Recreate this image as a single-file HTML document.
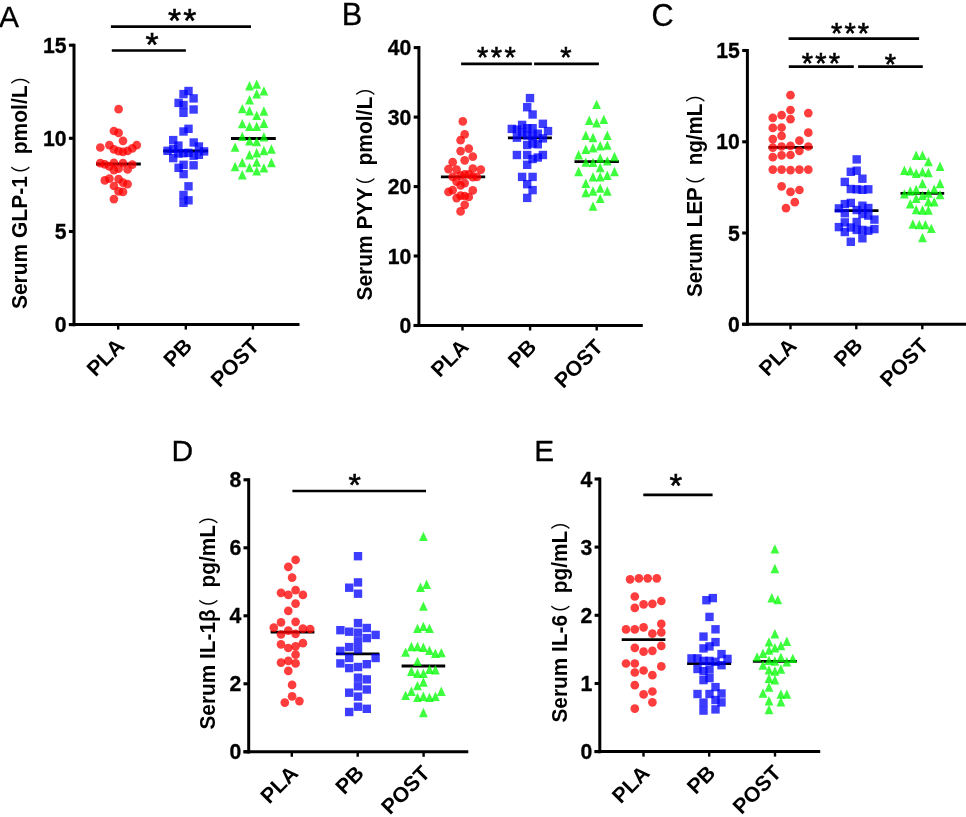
<!DOCTYPE html>
<html><head><meta charset="utf-8"><title>Figure</title>
<style>
html,body{margin:0;padding:0;background:#fff}
svg{display:block}
#fig{will-change:transform;width:966px;height:817px}
.st{stroke:#000;stroke-width:.6px}
.tk{stroke:#000;stroke-width:.3px}
.b{font-family:"Liberation Sans",sans-serif;font-weight:bold;fill:#000}
.l{font-family:"Liberation Sans",sans-serif;fill:#000}
.cj{font-family:"Noto Sans CJK SC","Liberation Sans",sans-serif;font-weight:normal}
</style></head><body>
<div id="fig">
<svg width="966" height="817" viewBox="0 0 966 817">
<rect width="966" height="817" fill="#fff"/>
<g id="panelA">
<text class="l tk" transform="translate(-0.9 26.9) scale(1 1)" font-size="30">A</text>
<line x1="96" x2="140.8" y1="164" y2="164" stroke="#000" stroke-width="2.8"/>
<g fill="#ff0000" fill-opacity="0.76">
<circle cx="118.6" cy="109.2" r="4.35"/><circle cx="113.9" cy="131" r="4.35"/><circle cx="118.6" cy="132.9" r="4.35"/><circle cx="123" cy="140.8" r="4.35"/><circle cx="100.3" cy="147.5" r="4.35"/><circle cx="109.4" cy="145.2" r="4.35"/><circle cx="113.9" cy="149.3" r="4.35"/><circle cx="118.6" cy="151.1" r="4.35"/><circle cx="123" cy="151.8" r="4.35"/><circle cx="127.6" cy="150.8" r="4.35"/><circle cx="132.3" cy="148.4" r="4.35"/><circle cx="136.7" cy="145.2" r="4.35"/><circle cx="100.3" cy="163.2" r="4.35"/><circle cx="104.8" cy="164.3" r="4.35"/><circle cx="109.4" cy="166.5" r="4.35"/><circle cx="113.9" cy="162.8" r="4.35"/><circle cx="113.9" cy="170.1" r="4.35"/><circle cx="118.6" cy="168.7" r="4.35"/><circle cx="123" cy="163.2" r="4.35"/><circle cx="127.6" cy="169.4" r="4.35"/><circle cx="132.3" cy="164.6" r="4.35"/><circle cx="104.8" cy="180.4" r="4.35"/><circle cx="109.4" cy="178.7" r="4.35"/><circle cx="118.6" cy="179.2" r="4.35"/><circle cx="123" cy="182.6" r="4.35"/><circle cx="127.6" cy="184.1" r="4.35"/><circle cx="113.9" cy="186" r="4.35"/><circle cx="118.6" cy="191.4" r="4.35"/><circle cx="123" cy="191.9" r="4.35"/><circle cx="113.9" cy="199.1" r="4.35"/>
</g>
<line x1="163.2" x2="208.1" y1="151" y2="151" stroke="#000" stroke-width="2.8"/>
<g fill="#0000ff" fill-opacity="0.76">
<rect x="184.3" y="86.8" width="8.4" height="8.4"/><rect x="179.3" y="89.9" width="8.4" height="8.4"/><rect x="189.4" y="94.2" width="8.4" height="8.4"/><rect x="174.4" y="98.7" width="8.4" height="8.4"/><rect x="179.3" y="100.8" width="8.4" height="8.4"/><rect x="189.4" y="105.3" width="8.4" height="8.4"/><rect x="179.3" y="108.6" width="8.4" height="8.4"/><rect x="184.3" y="124.6" width="8.4" height="8.4"/><rect x="179.3" y="127.3" width="8.4" height="8.4"/><rect x="184.3" y="182.1" width="8.4" height="8.4"/><rect x="179.3" y="190.8" width="8.4" height="8.4"/><rect x="184.3" y="196.1" width="8.4" height="8.4"/><rect x="179.3" y="198.6" width="8.4" height="8.4"/><rect x="163.3" y="146.6" width="8.4" height="8.4"/><rect x="169" y="135.9" width="8.4" height="8.4"/><rect x="169" y="144.8" width="8.4" height="8.4"/><rect x="169" y="153.9" width="8.4" height="8.4"/><rect x="174.2" y="141.4" width="8.4" height="8.4"/><rect x="174.2" y="149.3" width="8.4" height="8.4"/><rect x="179.2" y="149" width="8.4" height="8.4"/><rect x="184.3" y="148.6" width="8.4" height="8.4"/><rect x="189.5" y="138.3" width="8.4" height="8.4"/><rect x="189.5" y="151.5" width="8.4" height="8.4"/><rect x="194.7" y="142.3" width="8.4" height="8.4"/><rect x="194.7" y="150.6" width="8.4" height="8.4"/><rect x="199.9" y="147.2" width="8.4" height="8.4"/><rect x="179.4" y="160.6" width="8.4" height="8.4"/><rect x="189.4" y="161.1" width="8.4" height="8.4"/><rect x="174.4" y="163.6" width="8.4" height="8.4"/><rect x="179.4" y="169.9" width="8.4" height="8.4"/>
</g>
<line x1="231" x2="275.8" y1="138.5" y2="138.5" stroke="#000" stroke-width="2.8"/>
<g fill="#00ff00" fill-opacity="0.76">
<path d="M249.5 81L253.9 90.4L245.1 90.4Z"/><path d="M256.7 79.4L261.1 88.8L252.3 88.8Z"/><path d="M263.9 86.2L268.3 95.6L259.5 95.6Z"/><path d="M256.7 89.1L261.1 98.5L252.3 98.5Z"/><path d="M249.5 95L253.9 104.4L245.1 104.4Z"/><path d="M242.3 103.9L246.7 113.3L237.9 113.3Z"/><path d="M249.5 106L253.9 115.4L245.1 115.4Z"/><path d="M263.9 106.3L268.3 115.7L259.5 115.7Z"/><path d="M256.7 110.7L261.1 120.1L252.3 120.1Z"/><path d="M242.3 118.9L246.7 128.3L237.9 128.3Z"/><path d="M263.9 118.5L268.3 127.9L259.5 127.9Z"/><path d="M249.5 121.7L253.9 131.1L245.1 131.1Z"/><path d="M256.7 121.7L261.1 131.1L252.3 131.1Z"/><path d="M242.3 131.7L246.7 141.1L237.9 141.1Z"/><path d="M263.9 132L268.3 141.4L259.5 141.4Z"/><path d="M249.5 136.1L253.9 145.5L245.1 145.5Z"/><path d="M256.7 136.8L261.1 146.2L252.3 146.2Z"/><path d="M235.1 142.4L239.5 151.8L230.7 151.8Z"/><path d="M271.4 144.3L275.8 153.7L267 153.7Z"/><path d="M263.9 145.8L268.3 155.2L259.5 155.2Z"/><path d="M256.7 148.1L261.1 157.5L252.3 157.5Z"/><path d="M249.5 150L253.9 159.4L245.1 159.4Z"/><path d="M242.3 157.8L246.7 167.2L237.9 167.2Z"/><path d="M256.7 157.4L261.1 166.8L252.3 166.8Z"/><path d="M271.4 157.8L275.8 167.2L267 167.2Z"/><path d="M235.1 161.8L239.5 171.2L230.7 171.2Z"/><path d="M249.5 162.8L253.9 172.2L245.1 172.2Z"/><path d="M263.9 163.2L268.3 172.6L259.5 172.6Z"/><path d="M256.7 166.2L261.1 175.6L252.3 175.6Z"/><path d="M242.3 170L246.7 179.4L237.9 179.4Z"/>
</g>
<g stroke="#000" fill="none">
<line x1="74" x2="74" y1="43.7" y2="326.2" stroke-width="3"/>
<line x1="68.9" x2="299.5" y1="324.6" y2="324.6" stroke-width="3"/>
<line x1="68.9" x2="74" y1="324.6" y2="324.6" stroke-width="3.1"/>
<line x1="68.9" x2="74" y1="231.5" y2="231.5" stroke-width="3.1"/>
<line x1="68.9" x2="74" y1="138.3" y2="138.3" stroke-width="3.1"/>
<line x1="68.9" x2="74" y1="45.2" y2="45.2" stroke-width="3.1"/>
<line x1="118.2" x2="118.2" y1="324.6" y2="329.6" stroke-width="2.4"/>
<line x1="185.8" x2="185.8" y1="324.6" y2="329.6" stroke-width="2.4"/>
<line x1="252.9" x2="252.9" y1="324.6" y2="329.6" stroke-width="2.4"/>
</g>
<text class="b tk" transform="translate(66.5 332.2) scale(1 1.045)" font-size="21.2" text-anchor="end">0</text>
<text class="b tk" transform="translate(66.5 239.1) scale(1 1.045)" font-size="21.2" text-anchor="end">5</text>
<text class="b tk" transform="translate(66.5 145.9) scale(1 1.045)" font-size="21.2" text-anchor="end">10</text>
<text class="b tk" transform="translate(66.5 52.8) scale(1 1.045)" font-size="21.2" text-anchor="end">15</text>
<text class="b" transform="translate(125.7 347.3) rotate(-45)" font-size="21.3" text-anchor="end">PLA</text>
<text class="b" transform="translate(193.3 347.3) rotate(-45)" font-size="21.3" text-anchor="end">PB</text>
<text class="b" transform="translate(260.4 347.3) rotate(-45)" font-size="21.3" text-anchor="end">POST</text>
<text class="b" transform="translate(27.3 309.1) rotate(-90) scale(1 1.06)" font-size="21">Serum GLP-1<tspan class="cj" font-size="18.5" dx="-8.2" dy="1">（</tspan> <tspan dx="5.8" dy="-1">pmol/L</tspan><tspan class="cj" font-size="18.5" dx="1" dy="1">）</tspan></text>
<line x1="110.9" x2="251" y1="26.7" y2="26.7" stroke="#000" stroke-width="2.7"/>
<text class="l st" x="168.1" y="32.4" font-size="33.5" letter-spacing="2.2">**</text>
<line x1="111.8" x2="185.9" y1="50.5" y2="50.5" stroke="#000" stroke-width="2.7"/>
<text class="l st" x="145.5" y="55.9" font-size="33.5">*</text>
</g>
<g id="panelB">
<text class="l tk" transform="translate(341.8 25.1) scale(1 1)" font-size="30.7">B</text>
<line x1="440.9" x2="485.2" y1="176.8" y2="176.8" stroke="#000" stroke-width="2.8"/>
<g fill="#ff0000" fill-opacity="0.76">
<circle cx="462.8" cy="121.4" r="4.35"/><circle cx="464.7" cy="134.4" r="4.35"/><circle cx="460.6" cy="140.2" r="4.35"/><circle cx="468.8" cy="148.6" r="4.35"/><circle cx="460.6" cy="151.1" r="4.35"/><circle cx="472.8" cy="156.7" r="4.35"/><circle cx="464.7" cy="160.3" r="4.35"/><circle cx="452.7" cy="162.2" r="4.35"/><circle cx="448.5" cy="169.1" r="4.35"/><circle cx="456.6" cy="169.6" r="4.35"/><circle cx="472.8" cy="168.7" r="4.35"/><circle cx="480.8" cy="169.6" r="4.35"/><circle cx="464.7" cy="174.3" r="4.35"/><circle cx="468.8" cy="174.3" r="4.35"/><circle cx="452.7" cy="176.9" r="4.35"/><circle cx="460.6" cy="175.7" r="4.35"/><circle cx="472.8" cy="177.2" r="4.35"/><circle cx="476.9" cy="176.9" r="4.35"/><circle cx="456.6" cy="181.6" r="4.35"/><circle cx="464.7" cy="183.1" r="4.35"/><circle cx="460.6" cy="185.3" r="4.35"/><circle cx="452.7" cy="190.1" r="4.35"/><circle cx="448.5" cy="191.9" r="4.35"/><circle cx="472.8" cy="190.4" r="4.35"/><circle cx="460.6" cy="195.6" r="4.35"/><circle cx="464.7" cy="196" r="4.35"/><circle cx="456.6" cy="198.1" r="4.35"/><circle cx="468.8" cy="197" r="4.35"/><circle cx="464.7" cy="204.8" r="4.35"/><circle cx="460.6" cy="211.4" r="4.35"/>
</g>
<line x1="507.9" x2="551.9" y1="137.8" y2="137.8" stroke="#000" stroke-width="2.8"/>
<g fill="#0000ff" fill-opacity="0.76">
<rect x="525.8" y="93.9" width="8.4" height="8.4"/><rect x="523" y="103" width="8.4" height="8.4"/><rect x="528.4" y="110.3" width="8.4" height="8.4"/><rect x="538.7" y="119.6" width="8.4" height="8.4"/><rect x="517.9" y="120.7" width="8.4" height="8.4"/><rect x="507.6" y="124.7" width="8.4" height="8.4"/><rect x="528.4" y="124" width="8.4" height="8.4"/><rect x="523" y="124" width="8.4" height="8.4"/><rect x="512.7" y="125.4" width="8.4" height="8.4"/><rect x="543.8" y="126.9" width="8.4" height="8.4"/><rect x="517.9" y="128.4" width="8.4" height="8.4"/><rect x="533.6" y="129.5" width="8.4" height="8.4"/><rect x="523" y="131.3" width="8.4" height="8.4"/><rect x="528.4" y="132" width="8.4" height="8.4"/><rect x="512.7" y="133.5" width="8.4" height="8.4"/><rect x="538.7" y="134.2" width="8.4" height="8.4"/><rect x="533.6" y="140.1" width="8.4" height="8.4"/><rect x="523" y="140.8" width="8.4" height="8.4"/><rect x="528.4" y="139.4" width="8.4" height="8.4"/><rect x="512.7" y="150.8" width="8.4" height="8.4"/><rect x="523" y="150.8" width="8.4" height="8.4"/><rect x="538.7" y="150.8" width="8.4" height="8.4"/><rect x="533.6" y="153.3" width="8.4" height="8.4"/><rect x="528.4" y="154.8" width="8.4" height="8.4"/><rect x="523" y="160.6" width="8.4" height="8.4"/><rect x="517.9" y="172.7" width="8.4" height="8.4"/><rect x="528.4" y="172.7" width="8.4" height="8.4"/><rect x="523" y="180" width="8.4" height="8.4"/><rect x="528.4" y="185.9" width="8.4" height="8.4"/><rect x="523" y="193.7" width="8.4" height="8.4"/>
</g>
<line x1="574.5" x2="618.9" y1="161.6" y2="161.6" stroke="#000" stroke-width="2.8"/>
<g fill="#00ff00" fill-opacity="0.76">
<path d="M596.6 99.7L601 109.1L592.2 109.1Z"/><path d="M589.3 115.6L593.7 125L584.9 125Z"/><path d="M603.8 114.7L608.2 124.1L599.4 124.1Z"/><path d="M596.6 118.1L601 127.5L592.2 127.5Z"/><path d="M585.8 130.6L590.2 140L581.4 140Z"/><path d="M607.3 130.6L611.7 140L602.9 140Z"/><path d="M593 132.8L597.4 142.2L588.6 142.2Z"/><path d="M607.3 140.4L611.7 149.8L602.9 149.8Z"/><path d="M600.2 141.1L604.6 150.5L595.8 150.5Z"/><path d="M593 143L597.4 152.4L588.6 152.4Z"/><path d="M585.8 144.5L590.2 153.9L581.4 153.9Z"/><path d="M578.6 150.1L583 159.5L574.2 159.5Z"/><path d="M614.5 151.8L618.9 161.2L610.1 161.2Z"/><path d="M600.2 153.3L604.6 162.7L595.8 162.7Z"/><path d="M607.3 156.2L611.7 165.6L602.9 165.6Z"/><path d="M585.8 157.4L590.2 166.8L581.4 166.8Z"/><path d="M593 157.7L597.4 167.1L588.6 167.1Z"/><path d="M600.2 162.8L604.6 172.2L595.8 172.2Z"/><path d="M578.6 166.8L583 176.2L574.2 176.2Z"/><path d="M614.5 166.8L618.9 176.2L610.1 176.2Z"/><path d="M607.3 170.6L611.7 180L602.9 180Z"/><path d="M593 172.1L597.4 181.5L588.6 181.5Z"/><path d="M600.2 172.1L604.6 181.5L595.8 181.5Z"/><path d="M585.8 178.5L590.2 187.9L581.4 187.9Z"/><path d="M600.2 183.4L604.6 192.8L595.8 192.8Z"/><path d="M593 186.3L597.4 195.7L588.6 195.7Z"/><path d="M607.3 186.3L611.7 195.7L602.9 195.7Z"/><path d="M585.8 187.8L590.2 197.2L581.4 197.2Z"/><path d="M600.2 193.7L604.6 203.1L595.8 203.1Z"/><path d="M593 201.4L597.4 210.8L588.6 210.8Z"/>
</g>
<g stroke="#000" fill="none">
<line x1="418.9" x2="418.9" y1="46.1" y2="327.1" stroke-width="3"/>
<line x1="413.7" x2="642.8" y1="325.5" y2="325.5" stroke-width="3"/>
<line x1="413.7" x2="418.9" y1="325.5" y2="325.5" stroke-width="3.1"/>
<line x1="413.7" x2="418.9" y1="256" y2="256" stroke-width="3.1"/>
<line x1="413.7" x2="418.9" y1="186.6" y2="186.6" stroke-width="3.1"/>
<line x1="413.7" x2="418.9" y1="117.1" y2="117.1" stroke-width="3.1"/>
<line x1="413.7" x2="418.9" y1="47.6" y2="47.6" stroke-width="3.1"/>
<line x1="462.5" x2="462.5" y1="325.5" y2="330.5" stroke-width="2.4"/>
<line x1="530.1" x2="530.1" y1="325.5" y2="330.5" stroke-width="2.4"/>
<line x1="596.7" x2="596.7" y1="325.5" y2="330.5" stroke-width="2.4"/>
</g>
<text class="b tk" transform="translate(411.4 333.1) scale(1 1.045)" font-size="21.2" text-anchor="end">0</text>
<text class="b tk" transform="translate(411.4 263.6) scale(1 1.045)" font-size="21.2" text-anchor="end">10</text>
<text class="b tk" transform="translate(411.4 194.2) scale(1 1.045)" font-size="21.2" text-anchor="end">20</text>
<text class="b tk" transform="translate(411.4 124.7) scale(1 1.045)" font-size="21.2" text-anchor="end">30</text>
<text class="b tk" transform="translate(411.4 55.2) scale(1 1.045)" font-size="21.2" text-anchor="end">40</text>
<text class="b" transform="translate(470 348.2) rotate(-45)" font-size="21.3" text-anchor="end">PLA</text>
<text class="b" transform="translate(537.6 348.2) rotate(-45)" font-size="21.3" text-anchor="end">PB</text>
<text class="b" transform="translate(604.2 348.2) rotate(-45)" font-size="21.3" text-anchor="end">POST</text>
<text class="b" transform="translate(371.9 300.6) rotate(-90) scale(1 1.06)" font-size="21">Serum PYY<tspan class="cj" font-size="18.5" dx="-8.2" dy="1">（</tspan> <tspan dx="5.8" dy="-1">pmol/L</tspan><tspan class="cj" font-size="18.5" dx="1" dy="1">）</tspan></text>
<line x1="461.1" x2="531.9" y1="63.9" y2="63.9" stroke="#000" stroke-width="2.7"/>
<text class="l st" x="476.9" y="66.5" font-size="29" letter-spacing="2.5">***</text>
<line x1="534.1" x2="598.9" y1="63.9" y2="63.9" stroke="#000" stroke-width="2.7"/>
<text class="l st" x="560.2" y="66.5" font-size="29">*</text>
</g>
<g id="panelC">
<text class="l tk" transform="translate(651.6 25.7) scale(1 1)" font-size="30.6">C</text>
<line x1="768.5" x2="812.6" y1="147.3" y2="147.3" stroke="#000" stroke-width="2.8"/>
<g fill="#ff0000" fill-opacity="0.76">
<circle cx="790.5" cy="95.2" r="4.35"/><circle cx="790.5" cy="110" r="4.35"/><circle cx="808.3" cy="113.1" r="4.35"/><circle cx="781.6" cy="115.2" r="4.35"/><circle cx="772.8" cy="117.9" r="4.35"/><circle cx="790.5" cy="119.2" r="4.35"/><circle cx="772.8" cy="127.9" r="4.35"/><circle cx="781.6" cy="127.5" r="4.35"/><circle cx="808.3" cy="132.7" r="4.35"/><circle cx="781.6" cy="135.9" r="4.35"/><circle cx="772.8" cy="139.1" r="4.35"/><circle cx="799.4" cy="140.7" r="4.35"/><circle cx="772.8" cy="147.7" r="4.35"/><circle cx="781.6" cy="146.5" r="4.35"/><circle cx="790.5" cy="145.8" r="4.35"/><circle cx="808.3" cy="146.5" r="4.35"/><circle cx="799.4" cy="150.8" r="4.35"/><circle cx="772.8" cy="157.2" r="4.35"/><circle cx="781.6" cy="155.3" r="4.35"/><circle cx="790.5" cy="155" r="4.35"/><circle cx="772.8" cy="169.6" r="4.35"/><circle cx="781.6" cy="169.6" r="4.35"/><circle cx="790.5" cy="170.1" r="4.35"/><circle cx="799.4" cy="169.6" r="4.35"/><circle cx="808.3" cy="169.6" r="4.35"/><circle cx="781.6" cy="186.3" r="4.35"/><circle cx="790.5" cy="191.9" r="4.35"/><circle cx="799.4" cy="190" r="4.35"/><circle cx="794.8" cy="202.2" r="4.35"/><circle cx="786" cy="208.1" r="4.35"/>
</g>
<line x1="834.7" x2="878.5" y1="210.7" y2="210.7" stroke="#000" stroke-width="2.8"/>
<g fill="#0000ff" fill-opacity="0.76">
<rect x="852.5" y="155.2" width="8.4" height="8.4"/><rect x="852.5" y="166.5" width="8.4" height="8.4"/><rect x="846.6" y="167.6" width="8.4" height="8.4"/><rect x="858.2" y="174.5" width="8.4" height="8.4"/><rect x="840.6" y="177.7" width="8.4" height="8.4"/><rect x="846.6" y="184.8" width="8.4" height="8.4"/><rect x="852.5" y="185.1" width="8.4" height="8.4"/><rect x="858.2" y="185.6" width="8.4" height="8.4"/><rect x="864.1" y="185.1" width="8.4" height="8.4"/><rect x="846.6" y="198.7" width="8.4" height="8.4"/><rect x="840.6" y="199.9" width="8.4" height="8.4"/><rect x="858.2" y="201.5" width="8.4" height="8.4"/><rect x="834.7" y="204.2" width="8.4" height="8.4"/><rect x="864.1" y="203.8" width="8.4" height="8.4"/><rect x="852.5" y="205.8" width="8.4" height="8.4"/><rect x="840.6" y="209" width="8.4" height="8.4"/><rect x="858.2" y="209.8" width="8.4" height="8.4"/><rect x="864.1" y="211.4" width="8.4" height="8.4"/><rect x="870.2" y="215.4" width="8.4" height="8.4"/><rect x="840.6" y="218.2" width="8.4" height="8.4"/><rect x="852.5" y="217.8" width="8.4" height="8.4"/><rect x="834.7" y="222.9" width="8.4" height="8.4"/><rect x="846.6" y="223.3" width="8.4" height="8.4"/><rect x="870.2" y="224.9" width="8.4" height="8.4"/><rect x="852.5" y="225.7" width="8.4" height="8.4"/><rect x="858.2" y="225.7" width="8.4" height="8.4"/><rect x="864.1" y="226.5" width="8.4" height="8.4"/><rect x="840.6" y="227.8" width="8.4" height="8.4"/><rect x="858.2" y="234.1" width="8.4" height="8.4"/><rect x="846.6" y="237.6" width="8.4" height="8.4"/>
</g>
<line x1="900.5" x2="944.2" y1="193.4" y2="193.4" stroke="#000" stroke-width="2.8"/>
<g fill="#00ff00" fill-opacity="0.76">
<path d="M916.2 150.6L920.6 160L911.8 160Z"/><path d="M922.5 150.6L926.9 160L918.1 160Z"/><path d="M928.4 156.8L932.8 166.2L924 166.2Z"/><path d="M940.1 161.6L944.5 171L935.7 171Z"/><path d="M904.4 165.6L908.8 175L900 175Z"/><path d="M910.3 166L914.7 175.4L905.9 175.4Z"/><path d="M922.5 167L926.9 176.4L918.1 176.4Z"/><path d="M928.4 167.8L932.8 177.2L924 177.2Z"/><path d="M916.2 168.5L920.6 177.9L911.8 177.9Z"/><path d="M922.5 178.8L926.9 188.2L918.1 188.2Z"/><path d="M940.1 178.8L944.5 188.2L935.7 188.2Z"/><path d="M934.2 184.4L938.6 193.8L929.8 193.8Z"/><path d="M916.2 184.8L920.6 194.2L911.8 194.2Z"/><path d="M910.3 186.3L914.7 195.7L905.9 195.7Z"/><path d="M928.4 188.3L932.8 197.7L924 197.7Z"/><path d="M904.4 189.2L908.8 198.6L900 198.6Z"/><path d="M940.1 189.9L944.5 199.3L935.7 199.3Z"/><path d="M922.5 190.7L926.9 200.1L918.1 200.1Z"/><path d="M916.2 193.5L920.6 202.9L911.8 202.9Z"/><path d="M928.4 196.8L932.8 206.2L924 206.2Z"/><path d="M934.2 197.1L938.6 206.5L929.8 206.5Z"/><path d="M910.3 199L914.7 208.4L905.9 208.4Z"/><path d="M916.2 204.9L920.6 214.3L911.8 214.3Z"/><path d="M922.5 205.3L926.9 214.7L918.1 214.7Z"/><path d="M928.4 205.3L932.8 214.7L924 214.7Z"/><path d="M912.9 219.3L917.3 228.7L908.5 228.7Z"/><path d="M919.3 219.9L923.7 229.3L914.9 229.3Z"/><path d="M925.4 219.9L929.8 229.3L921 229.3Z"/><path d="M931.3 223.7L935.7 233.1L926.9 233.1Z"/><path d="M922.5 232.8L926.9 242.2L918.1 242.2Z"/>
</g>
<g stroke="#000" fill="none">
<line x1="747.4" x2="747.4" y1="49" y2="325.9" stroke-width="3"/>
<line x1="742.2" x2="968" y1="324.3" y2="324.3" stroke-width="3"/>
<line x1="742.2" x2="747.4" y1="324.3" y2="324.3" stroke-width="3.1"/>
<line x1="742.2" x2="747.4" y1="233" y2="233" stroke-width="3.1"/>
<line x1="742.2" x2="747.4" y1="141.8" y2="141.8" stroke-width="3.1"/>
<line x1="742.2" x2="747.4" y1="50.5" y2="50.5" stroke-width="3.1"/>
<line x1="790.5" x2="790.5" y1="324.3" y2="329.3" stroke-width="2.4"/>
<line x1="856.3" x2="856.3" y1="324.3" y2="329.3" stroke-width="2.4"/>
<line x1="922.3" x2="922.3" y1="324.3" y2="329.3" stroke-width="2.4"/>
</g>
<text class="b tk" transform="translate(739.9 331.9) scale(1 1.045)" font-size="21.2" text-anchor="end">0</text>
<text class="b tk" transform="translate(739.9 240.6) scale(1 1.045)" font-size="21.2" text-anchor="end">5</text>
<text class="b tk" transform="translate(739.9 149.4) scale(1 1.045)" font-size="21.2" text-anchor="end">10</text>
<text class="b tk" transform="translate(739.9 58.1) scale(1 1.045)" font-size="21.2" text-anchor="end">15</text>
<text class="b" transform="translate(798 347) rotate(-45)" font-size="21.3" text-anchor="end">PLA</text>
<text class="b" transform="translate(863.8 347) rotate(-45)" font-size="21.3" text-anchor="end">PB</text>
<text class="b" transform="translate(929.8 347) rotate(-45)" font-size="21.3" text-anchor="end">POST</text>
<text class="b" transform="translate(702 297) rotate(-90) scale(1 1.06)" font-size="20.6">Serum LEP<tspan class="cj" font-size="18.5" dx="-8.2" dy="1">（</tspan> <tspan dx="5.8" dy="-1">ng/mL</tspan><tspan class="cj" font-size="18.5" dx="1" dy="1">）</tspan></text>
<line x1="788.6" x2="919.1" y1="38.7" y2="38.7" stroke="#000" stroke-width="2.7"/>
<text class="l st" x="830.9" y="43.4" font-size="29" letter-spacing="2.2">***</text>
<line x1="788.8" x2="853.8" y1="66.7" y2="66.7" stroke="#000" stroke-width="2.7"/>
<text class="l st" x="801.8" y="72.7" font-size="29" letter-spacing="2.2">***</text>
<line x1="858.1" x2="922.8" y1="66.7" y2="66.7" stroke="#000" stroke-width="2.7"/>
<text class="l st" x="884.7" y="73.5" font-size="29">*</text>
</g>
<g id="panelD">
<text class="l tk" transform="translate(171.5 460.8) scale(1 1)" font-size="30">D</text>
<line x1="270.6" x2="314.4" y1="632.2" y2="632.2" stroke="#000" stroke-width="2.8"/>
<g fill="#ff0000" fill-opacity="0.76">
<circle cx="295.6" cy="559.9" r="4.35"/><circle cx="288.3" cy="566.8" r="4.35"/><circle cx="292.1" cy="577.6" r="4.35"/><circle cx="295.6" cy="590.1" r="4.35"/><circle cx="281" cy="592.8" r="4.35"/><circle cx="288.3" cy="594.9" r="4.35"/><circle cx="302.9" cy="594.9" r="4.35"/><circle cx="295.6" cy="603.6" r="4.35"/><circle cx="288.3" cy="610.9" r="4.35"/><circle cx="295.6" cy="621.8" r="4.35"/><circle cx="281" cy="622.4" r="4.35"/><circle cx="273.8" cy="627.6" r="4.35"/><circle cx="302.9" cy="628.6" r="4.35"/><circle cx="310.2" cy="629" r="4.35"/><circle cx="288.3" cy="630.7" r="4.35"/><circle cx="295.6" cy="633.8" r="4.35"/><circle cx="281" cy="634.5" r="4.35"/><circle cx="302.9" cy="643.2" r="4.35"/><circle cx="281" cy="644.3" r="4.35"/><circle cx="295.6" cy="646.3" r="4.35"/><circle cx="288.3" cy="648" r="4.35"/><circle cx="295.6" cy="654.7" r="4.35"/><circle cx="288.3" cy="660.9" r="4.35"/><circle cx="281" cy="662.6" r="4.35"/><circle cx="295.6" cy="663.4" r="4.35"/><circle cx="288.3" cy="670.9" r="4.35"/><circle cx="292.1" cy="684.9" r="4.35"/><circle cx="292.1" cy="696.3" r="4.35"/><circle cx="299.4" cy="701.1" r="4.35"/><circle cx="284.8" cy="702.6" r="4.35"/>
</g>
<line x1="335.9" x2="379.4" y1="653.9" y2="653.9" stroke="#000" stroke-width="2.8"/>
<g fill="#0000ff" fill-opacity="0.76">
<rect x="353.8" y="552" width="8.4" height="8.4"/><rect x="353.8" y="578.2" width="8.4" height="8.4"/><rect x="345" y="583.5" width="8.4" height="8.4"/><rect x="353.8" y="589.5" width="8.4" height="8.4"/><rect x="353.8" y="618.9" width="8.4" height="8.4"/><rect x="362.6" y="623.8" width="8.4" height="8.4"/><rect x="336.2" y="626" width="8.4" height="8.4"/><rect x="345" y="627.5" width="8.4" height="8.4"/><rect x="353.8" y="628.5" width="8.4" height="8.4"/><rect x="371.4" y="630.7" width="8.4" height="8.4"/><rect x="362.6" y="633.9" width="8.4" height="8.4"/><rect x="353.8" y="637.1" width="8.4" height="8.4"/><rect x="345" y="642.9" width="8.4" height="8.4"/><rect x="353.8" y="645.2" width="8.4" height="8.4"/><rect x="336.2" y="646.7" width="8.4" height="8.4"/><rect x="345" y="653.8" width="8.4" height="8.4"/><rect x="371.4" y="653.8" width="8.4" height="8.4"/><rect x="336.2" y="659.2" width="8.4" height="8.4"/><rect x="362.6" y="660" width="8.4" height="8.4"/><rect x="353.8" y="662.8" width="8.4" height="8.4"/><rect x="345" y="663.9" width="8.4" height="8.4"/><rect x="353.8" y="673.5" width="8.4" height="8.4"/><rect x="362.6" y="675.2" width="8.4" height="8.4"/><rect x="353.8" y="682.1" width="8.4" height="8.4"/><rect x="362.6" y="685.3" width="8.4" height="8.4"/><rect x="345" y="688.5" width="8.4" height="8.4"/><rect x="353.8" y="692.4" width="8.4" height="8.4"/><rect x="353.8" y="702.5" width="8.4" height="8.4"/><rect x="362.6" y="704.6" width="8.4" height="8.4"/><rect x="345" y="707.8" width="8.4" height="8.4"/>
</g>
<line x1="401.6" x2="445.2" y1="666" y2="666" stroke="#000" stroke-width="2.8"/>
<g fill="#00ff00" fill-opacity="0.76">
<path d="M423.4 531.7L427.8 541.1L419 541.1Z"/><path d="M426.6 579.6L431 589L422.2 589Z"/><path d="M420.5 582.6L424.9 592L416.1 592Z"/><path d="M423.4 601.4L427.8 610.8L419 610.8Z"/><path d="M423.4 621.7L427.8 631.1L419 631.1Z"/><path d="M417.5 623.7L421.9 633.1L413.1 633.1Z"/><path d="M429.5 623.7L433.9 633.1L425.1 633.1Z"/><path d="M411.4 641.8L415.8 651.2L407 651.2Z"/><path d="M417.5 641.8L421.9 651.2L413.1 651.2Z"/><path d="M423.4 642.5L427.8 651.9L419 651.9Z"/><path d="M429.5 645.7L433.9 655.1L425.1 655.1Z"/><path d="M405.6 647.4L410 656.8L401.2 656.8Z"/><path d="M441.3 647.9L445.7 657.3L436.9 657.3Z"/><path d="M435.4 648.6L439.8 658L431 658Z"/><path d="M417.5 656.7L421.9 666.1L413.1 666.1Z"/><path d="M429.5 664.5L433.9 673.9L425.1 673.9Z"/><path d="M435.4 665L439.8 674.4L431 674.4Z"/><path d="M411.4 666.5L415.8 675.9L407 675.9Z"/><path d="M417.5 668.7L421.9 678.1L413.1 678.1Z"/><path d="M423.4 668.7L427.8 678.1L419 678.1Z"/><path d="M423.4 677.3L427.8 686.7L419 686.7Z"/><path d="M417.5 680.9L421.9 690.3L413.1 690.3Z"/><path d="M411.4 686.6L415.8 696L407 696Z"/><path d="M441.3 686.6L445.7 696L436.9 696Z"/><path d="M405.6 690.7L410 700.1L401.2 700.1Z"/><path d="M423.4 691.5L427.8 700.9L419 700.9Z"/><path d="M435.4 691.5L439.8 700.9L431 700.9Z"/><path d="M417.5 692.7L421.9 702.1L413.1 702.1Z"/><path d="M429.5 692.7L433.9 702.1L425.1 702.1Z"/><path d="M423.4 707.8L427.8 717.2L419 717.2Z"/>
</g>
<g stroke="#000" fill="none">
<line x1="248.7" x2="248.7" y1="478.2" y2="753.4" stroke-width="3"/>
<line x1="243.5" x2="468.3" y1="751.8" y2="751.8" stroke-width="3"/>
<line x1="243.5" x2="248.7" y1="751.8" y2="751.8" stroke-width="3.1"/>
<line x1="243.5" x2="248.7" y1="683.8" y2="683.8" stroke-width="3.1"/>
<line x1="243.5" x2="248.7" y1="615.8" y2="615.8" stroke-width="3.1"/>
<line x1="243.5" x2="248.7" y1="547.8" y2="547.8" stroke-width="3.1"/>
<line x1="243.5" x2="248.7" y1="479.8" y2="479.8" stroke-width="3.1"/>
<line x1="291.8" x2="291.8" y1="751.8" y2="756.8" stroke-width="2.4"/>
<line x1="357.7" x2="357.7" y1="751.8" y2="756.8" stroke-width="2.4"/>
<line x1="423.6" x2="423.6" y1="751.8" y2="756.8" stroke-width="2.4"/>
</g>
<text class="b tk" transform="translate(241.2 759.4) scale(1 1.045)" font-size="21.2" text-anchor="end">0</text>
<text class="b tk" transform="translate(241.2 691.4) scale(1 1.045)" font-size="21.2" text-anchor="end">2</text>
<text class="b tk" transform="translate(241.2 623.4) scale(1 1.045)" font-size="21.2" text-anchor="end">4</text>
<text class="b tk" transform="translate(241.2 555.4) scale(1 1.045)" font-size="21.2" text-anchor="end">6</text>
<text class="b tk" transform="translate(241.2 487.4) scale(1 1.045)" font-size="21.2" text-anchor="end">8</text>
<text class="b" transform="translate(299.3 774.5) rotate(-45)" font-size="21.3" text-anchor="end">PLA</text>
<text class="b" transform="translate(365.2 774.5) rotate(-45)" font-size="21.3" text-anchor="end">PB</text>
<text class="b" transform="translate(431.1 774.5) rotate(-45)" font-size="21.3" text-anchor="end">POST</text>
<text class="b" transform="translate(215.2 729.5) rotate(-90) scale(1 1.06)" font-size="20.8">Serum IL-1β<tspan class="cj" font-size="18.5" dx="-8.2" dy="1">（</tspan> <tspan dx="5.8" dy="-1">pg/mL</tspan><tspan class="cj" font-size="18.5" dx="1" dy="1">）</tspan></text>
<line x1="292.4" x2="426" y1="491" y2="491" stroke="#000" stroke-width="2.7"/>
<text class="l st" x="348.6" y="495.7" font-size="31.7">*</text>
</g>
<g id="panelE">
<text class="l tk" transform="translate(534.3 460.8) scale(1 1)" font-size="29.8">E</text>
<line x1="621.7" x2="665.4" y1="639.6" y2="639.6" stroke="#000" stroke-width="2.8"/>
<g fill="#ff0000" fill-opacity="0.76">
<circle cx="630.1" cy="579.3" r="4.35"/><circle cx="638.9" cy="578.3" r="4.35"/><circle cx="647.7" cy="578.3" r="4.35"/><circle cx="656.8" cy="578.3" r="4.35"/><circle cx="634.8" cy="596.5" r="4.35"/><circle cx="661.3" cy="601" r="4.35"/><circle cx="652.4" cy="603.8" r="4.35"/><circle cx="643.6" cy="604.4" r="4.35"/><circle cx="634.8" cy="607.9" r="4.35"/><circle cx="661.3" cy="623.9" r="4.35"/><circle cx="643.6" cy="627.3" r="4.35"/><circle cx="626" cy="629.4" r="4.35"/><circle cx="634.8" cy="629.4" r="4.35"/><circle cx="661.3" cy="632.4" r="4.35"/><circle cx="652.4" cy="633.7" r="4.35"/><circle cx="661.3" cy="645.9" r="4.35"/><circle cx="634.8" cy="647.8" r="4.35"/><circle cx="652.4" cy="650.8" r="4.35"/><circle cx="643.6" cy="651.7" r="4.35"/><circle cx="626" cy="663.5" r="4.35"/><circle cx="634.8" cy="663.5" r="4.35"/><circle cx="661.3" cy="666.4" r="4.35"/><circle cx="643.6" cy="670.5" r="4.35"/><circle cx="634.8" cy="672.5" r="4.35"/><circle cx="652.4" cy="675.2" r="4.35"/><circle cx="634.8" cy="685.2" r="4.35"/><circle cx="652.4" cy="691.5" r="4.35"/><circle cx="643.6" cy="694.4" r="4.35"/><circle cx="652.4" cy="702.3" r="4.35"/><circle cx="634.8" cy="708.7" r="4.35"/>
</g>
<line x1="687.1" x2="731.1" y1="663.6" y2="663.6" stroke="#000" stroke-width="2.8"/>
<g fill="#0000ff" fill-opacity="0.76">
<rect x="708.6" y="593.9" width="8.4" height="8.4"/><rect x="702.2" y="596" width="8.4" height="8.4"/><rect x="705.3" y="612.7" width="8.4" height="8.4"/><rect x="711.3" y="625.1" width="8.4" height="8.4"/><rect x="699.3" y="632.4" width="8.4" height="8.4"/><rect x="711.3" y="637.9" width="8.4" height="8.4"/><rect x="705.3" y="642.2" width="8.4" height="8.4"/><rect x="699.3" y="644.2" width="8.4" height="8.4"/><rect x="717.3" y="649.9" width="8.4" height="8.4"/><rect x="687.3" y="654.2" width="8.4" height="8.4"/><rect x="693.3" y="654.2" width="8.4" height="8.4"/><rect x="723.3" y="654.7" width="8.4" height="8.4"/><rect x="699.3" y="656.7" width="8.4" height="8.4"/><rect x="705.3" y="656.7" width="8.4" height="8.4"/><rect x="711.3" y="657.6" width="8.4" height="8.4"/><rect x="717.3" y="661" width="8.4" height="8.4"/><rect x="693.3" y="664.8" width="8.4" height="8.4"/><rect x="705.3" y="665.3" width="8.4" height="8.4"/><rect x="699.3" y="667" width="8.4" height="8.4"/><rect x="705.3" y="673.9" width="8.4" height="8.4"/><rect x="699.3" y="675.9" width="8.4" height="8.4"/><rect x="711.3" y="682.9" width="8.4" height="8.4"/><rect x="693.3" y="689.8" width="8.4" height="8.4"/><rect x="705.3" y="689.8" width="8.4" height="8.4"/><rect x="717.3" y="689.3" width="8.4" height="8.4"/><rect x="711.3" y="695.8" width="8.4" height="8.4"/><rect x="717.3" y="698.2" width="8.4" height="8.4"/><rect x="699.3" y="698.4" width="8.4" height="8.4"/><rect x="711.3" y="705.2" width="8.4" height="8.4"/><rect x="699.3" y="706.4" width="8.4" height="8.4"/>
</g>
<line x1="752.9" x2="796.9" y1="661.4" y2="661.4" stroke="#000" stroke-width="2.8"/>
<g fill="#00ff00" fill-opacity="0.76">
<path d="M774.9 544.2L779.3 553.6L770.5 553.6Z"/><path d="M774.9 563.8L779.3 573.2L770.5 573.2Z"/><path d="M771.8 593.1L776.2 602.5L767.4 602.5Z"/><path d="M777.8 594.9L782.2 604.3L773.4 604.3Z"/><path d="M774.9 629L779.3 638.4L770.5 638.4Z"/><path d="M786.8 636.5L791.2 645.9L782.4 645.9Z"/><path d="M769 637.2L773.4 646.6L764.6 646.6Z"/><path d="M780.9 640.9L785.3 650.3L776.5 650.3Z"/><path d="M774.9 643.1L779.3 652.5L770.5 652.5Z"/><path d="M769 645.3L773.4 654.7L764.6 654.7Z"/><path d="M763 648.6L767.4 658L758.6 658Z"/><path d="M757.1 652.2L761.5 661.6L752.7 661.6Z"/><path d="M780.9 652.6L785.3 662L776.5 662Z"/><path d="M792.8 653.7L797.2 663.1L788.4 663.1Z"/><path d="M769 655.5L773.4 664.9L764.6 664.9Z"/><path d="M774.9 656.3L779.3 665.7L770.5 665.7Z"/><path d="M786.8 657L791.2 666.4L782.4 666.4Z"/><path d="M763 660.3L767.4 669.7L758.6 669.7Z"/><path d="M780.9 664.3L785.3 673.7L776.5 673.7Z"/><path d="M769 665.2L773.4 674.6L764.6 674.6Z"/><path d="M774.9 666.3L779.3 675.7L770.5 675.7Z"/><path d="M769 673.5L773.4 682.9L764.6 682.9Z"/><path d="M774.9 675.1L779.3 684.5L770.5 684.5Z"/><path d="M769 682.3L773.4 691.7L764.6 691.7Z"/><path d="M763 688.3L767.4 697.7L758.6 697.7Z"/><path d="M780.9 689.4L785.3 698.8L776.5 698.8Z"/><path d="M786.8 689.4L791.2 698.8L782.4 698.8Z"/><path d="M769 696L773.4 705.4L764.6 705.4Z"/><path d="M780.9 697.1L785.3 706.5L776.5 706.5Z"/><path d="M769 704.8L773.4 714.2L764.6 714.2Z"/>
</g>
<g stroke="#000" fill="none">
<line x1="599.8" x2="599.8" y1="477.4" y2="753.2" stroke-width="3"/>
<line x1="594.6" x2="820.2" y1="751.6" y2="751.6" stroke-width="3"/>
<line x1="594.6" x2="599.8" y1="751.6" y2="751.6" stroke-width="3.1"/>
<line x1="594.6" x2="599.8" y1="683.5" y2="683.5" stroke-width="3.1"/>
<line x1="594.6" x2="599.8" y1="615.3" y2="615.3" stroke-width="3.1"/>
<line x1="594.6" x2="599.8" y1="547.1" y2="547.1" stroke-width="3.1"/>
<line x1="594.6" x2="599.8" y1="479" y2="479" stroke-width="3.1"/>
<line x1="643.5" x2="643.5" y1="751.6" y2="756.6" stroke-width="2.4"/>
<line x1="709.2" x2="709.2" y1="751.6" y2="756.6" stroke-width="2.4"/>
<line x1="775" x2="775" y1="751.6" y2="756.6" stroke-width="2.4"/>
</g>
<text class="b tk" transform="translate(592.3 759.2) scale(1 1.045)" font-size="21.2" text-anchor="end">0</text>
<text class="b tk" transform="translate(592.3 691.1) scale(1 1.045)" font-size="21.2" text-anchor="end">1</text>
<text class="b tk" transform="translate(592.3 622.9) scale(1 1.045)" font-size="21.2" text-anchor="end">2</text>
<text class="b tk" transform="translate(592.3 554.8) scale(1 1.045)" font-size="21.2" text-anchor="end">3</text>
<text class="b tk" transform="translate(592.3 486.6) scale(1 1.045)" font-size="21.2" text-anchor="end">4</text>
<text class="b" transform="translate(651 774.3) rotate(-45)" font-size="21.3" text-anchor="end">PLA</text>
<text class="b" transform="translate(716.7 774.3) rotate(-45)" font-size="21.3" text-anchor="end">PB</text>
<text class="b" transform="translate(782.5 774.3) rotate(-45)" font-size="21.3" text-anchor="end">POST</text>
<text class="b" transform="translate(566.9 722.5) rotate(-90) scale(1 1.06)" font-size="20.8">Serum IL-6<tspan class="cj" font-size="18.5" dx="-8.2" dy="1">（</tspan> <tspan dx="5.8" dy="-1">pg/mL</tspan><tspan class="cj" font-size="18.5" dx="1" dy="1">）</tspan></text>
<line x1="643.3" x2="712.6" y1="494.9" y2="494.9" stroke="#000" stroke-width="2.7"/>
<text class="l st" x="669.6" y="497.4" font-size="32.5">*</text>
</g>
</svg>
</div>
</body></html>
